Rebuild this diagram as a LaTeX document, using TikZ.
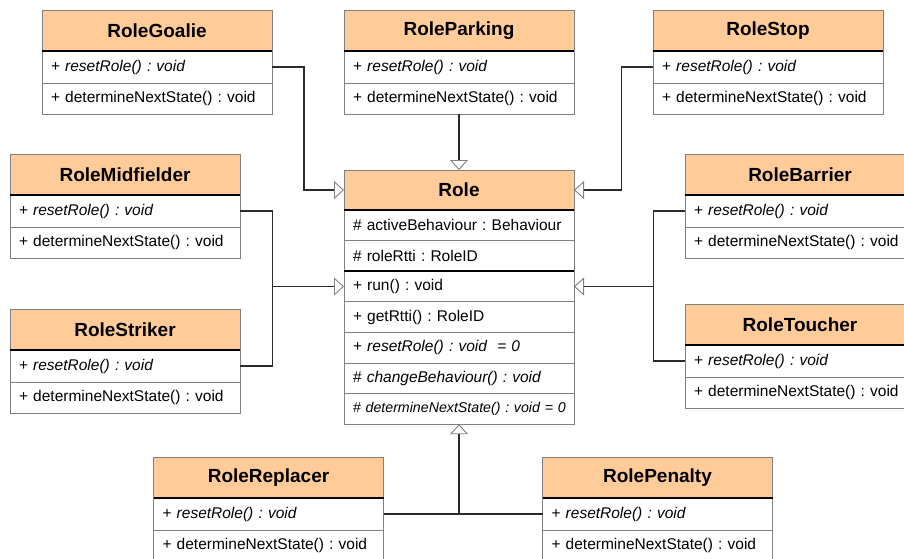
\documentclass[tikz,border=0pt]{standalone}
\usepackage{fontspec}
\setmainfont{Liberation Sans}
\usetikzlibrary{arrows.meta}
\frenchspacing

\definecolor{hdrfill}{HTML}{FFCC99}
\definecolor{boxline}{HTML}{808080}
\definecolor{connline}{HTML}{2B2B2B}

% one UML class: name, x, y, title, first operation, second operation
\newcommand{\umlclass}[6]{%
  \node[hdr, anchor=north west] (#1-h) at (#2,#3) {#4};
  \node[row, minimum height=32pt, anchor=north] (#1-1) at (#1-h.south) {#5};
  \node[row, minimum height=31pt, anchor=north] (#1-2) at (#1-1.south) {#6};
  \draw[sepline] (#1-h.south west) -- (#1-h.south east);
}
\newcommand{\rr}{+ \textit{resetRole() : void}}
\newcommand{\dns}{+ determineNextState() : void}

\begin{document}
\begin{tikzpicture}[x=1pt, y=-1pt,
  hdr/.style={draw=boxline, line width=0.9pt, fill=hdrfill, inner sep=0pt, outer sep=0pt,
    text width=230pt, align=center, minimum height=41pt,
    font=\fontsize{19}{22}\selectfont\bfseries},
  row/.style={draw=boxline, line width=0.9pt, fill=white, inner xsep=9pt, inner ysep=0pt,
    outer sep=0pt, text width=212pt, align=left,
    font=\fontsize{15.5}{18}\selectfont},
  sepline/.style={line width=2pt, black},
  conn/.style={connline, line width=1.4pt},
  inh/.style={conn, -{Triangle[length=10pt, width=18pt, fill=white, color=boxline, line width=0.9pt]}}
]
\useasboundingbox (0,0) rectangle (904,558);
\clip (0,0) rectangle (904,558);

% subclasses
\umlclass{goalie}{42}{10}{RoleGoalie}{\rr}{\dns}
\umlclass{parking}{344}{10}{RoleParking}{\rr}{\dns}
\umlclass{stop}{653}{10}{RoleStop}{\rr}{\dns}
\umlclass{mid}{10}{154}{RoleMidfielder}{\rr}{\dns}
\umlclass{striker}{10}{309}{RoleStriker}{\rr}{\dns}
\umlclass{barrier}{685}{154}{RoleBarrier}{\rr}{\dns}
\umlclass{toucher}{685}{304}{RoleToucher}{\rr}{\dns}
\umlclass{replacer}{153.5}{457}{RoleReplacer}{\rr}{\dns}
\umlclass{penalty}{542.5}{457}{RolePenalty}{\rr}{\dns}

% base class Role
\node[hdr, anchor=north west, minimum height=40pt] (role-h) at (344,170) {Role};
\node[row, minimum height=30.6pt, anchor=north] (role-1) at (role-h.south) {\# activeBehaviour : Behaviour};
\node[row, minimum height=30.6pt, anchor=north] (role-2) at (role-1.south) {\# roleRtti : RoleID};
\node[row, minimum height=30.6pt, anchor=north] (role-3) at (role-2.south) {+ run() : void};
\node[row, minimum height=30.6pt, anchor=north] (role-4) at (role-3.south) {+ getRtti() : RoleID};
\node[row, minimum height=30.6pt, anchor=north] (role-5) at (role-4.south) {+ \textit{resetRole() : void \ = 0}};
\node[row, minimum height=30.6pt, anchor=north] (role-6) at (role-5.south) {\# \textit{changeBehaviour() : void}};
\node[row, minimum height=30.6pt, anchor=north, font=\fontsize{14.2}{17}\selectfont] (role-7) at (role-6.south) {\mbox{\# \textit{determineNextState() : void = 0}}};
\draw[sepline] (role-h.south west) -- (role-h.south east);
\draw[sepline] (role-2.south west) -- (role-2.south east);

% generalisation connectors
\coordinate (gBend) at (304,190);
\draw[inh] (goalie-1.east) -| (gBend) -- (role-h.west);
\draw[inh] (parking-2.south) -- (role-h.north);
\coordinate (sBend) at (621.7,190);
\draw[inh] (stop-1.west) -| (sBend) -- (role-h.east);

\coordinate (lJoin) at ([xshift=-71.3pt]role-3.west);
\draw[inh] (mid-1.east) -| (lJoin) -- (role-3.west);
\draw[conn] (striker-1.east) -| (lJoin);

\coordinate (rJoin) at ([xshift=79.3pt]role-3.east);
\draw[inh] (barrier-1.west) -| (rJoin) -- (role-3.east);
\draw[conn] (toucher-1.west) -| (rJoin);

\coordinate (bJoin) at (role-7.south |- replacer-1.east);
\draw[conn] (replacer-1.east) -- (penalty-1.west);
\draw[inh] (bJoin) -- (role-7.south);
\end{tikzpicture}
\end{document}
